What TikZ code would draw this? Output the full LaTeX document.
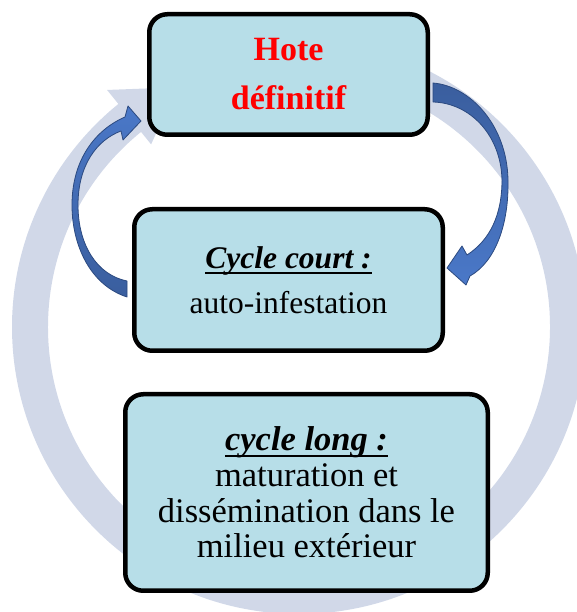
\documentclass[tikz,border=0pt]{standalone}
\usepackage{fontspec}
\setmainfont{Liberation Serif}
\usetikzlibrary{calc}
\definecolor{BoxFill}{HTML}{B7DEE8}
\definecolor{RingFill}{HTML}{D1D8E8}
\definecolor{ArrowLight}{HTML}{4A78C8}
\definecolor{ArrowDark}{HTML}{3A5E9E}
\definecolor{ArrowEdge}{HTML}{2C4A80}
\newcommand{\ulin}[1]{\setbox0\hbox{#1}\rlap{\rule[-6pt]{\wd0}{1.8pt}}\box0}

\begin{document}
\begin{tikzpicture}[x=1pt, y=1pt,
  box/.style={draw=black, fill=BoxFill, line width=4.5pt, rounded corners=18pt, align=center, inner sep=0pt},
  bent/.style={draw=ArrowEdge, line width=0.8pt, line join=round},
]
\useasboundingbox (0,0) rectangle (577,612);
\clip (0,0) rectangle (577,612);
\coordinate (c) at (299,285);
\fill[RingFill] (c) ++(90:287) arc[start angle=90, end angle=-231, radius=287]
  -- ($(c)+(129:305)$) -- ($(c)+(117:269)$) -- ($(c)+(129:235)$) -- ($(c)+(129:251)$)
  arc[start angle=-231, end angle=90, radius=251] -- cycle;
\node[box, minimum width=278.5pt, minimum height=120.5pt, text=red, font=\fontsize{34}{49}\selectfont\bfseries] (hote) at (288.5,537.5) {Hote\\définitif};
\node[box, minimum width=308.5pt, minimum height=141.5pt, font=\fontsize{31.5}{45}\selectfont] (court) at (288.5,332) {\ulin{\textbf{\textit{Cycle court :}}}\\auto-infestation};
\node[box, minimum width=362.5pt, minimum height=196.5pt, font=\fontsize{34.5}{35.7}\selectfont] (long) at (306.5,119.5) {\ulin{\textbf{\textit{cycle long :}}}\\maturation et\\dissémination dans le\\milieu extérieur};
\draw[bent, top color=ArrowLight, bottom color=ArrowDark] (127,315) .. controls (90,327) and (72,367) .. (72,407) .. controls (72,452) and (95,482) .. (125,495) -- (128,506) -- (141,491) -- (123,472) -- (121,481) .. controls (97,472) and (78,447) .. (78,407) .. controls (78,367) and (97,337) .. (127,331) -- cycle;
\draw[bent, top color=ArrowDark, bottom color=ArrowLight] (433,529) .. controls (470,526) and (507,487) .. (508,432) .. controls (509,387) and (495,350) .. (470,336) -- (466,327) -- (447,344) -- (462,366) -- (467,357) .. controls (490,372) and (502,397) .. (502,432) .. controls (501,477) and (470,509) .. (433,510) -- cycle;
\end{tikzpicture}
\end{document}
